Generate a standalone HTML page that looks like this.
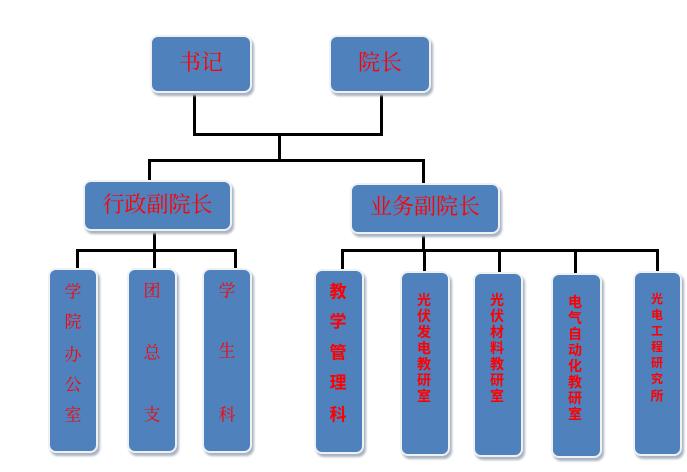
<!DOCTYPE html>
<html><head><meta charset="utf-8"><style>
body{margin:0;width:687px;height:472px;background:#fff;position:relative;overflow:hidden;font-family:"Liberation Sans","Noto Sans CJK SC",sans-serif;}
.b{position:absolute;background:#4f81bd;border:2px solid #eef0f3;border-radius:8px;box-shadow:2px 3px 2px #a9b4c2;box-sizing:border-box;}
.t{position:absolute;color:#ff0000;text-align:center;line-height:1;font-family:"Liberation Serif","Noto Serif CJK SC",serif;}
.l{position:absolute;background:#000;}
.c{position:absolute;color:#f00;font-weight:bold;transform:translate(-50%,-50%);line-height:1;}
.s{font-family:"Liberation Serif","Noto Serif CJK SC",serif;}
</style></head><body>
<div class="l" style="left:193px;top:93px;width:3px;height:42px"></div>
<div class="l" style="left:380px;top:93px;width:3px;height:42px"></div>
<div class="l" style="left:193px;top:133px;width:190px;height:3px"></div>
<div class="l" style="left:278px;top:134px;width:3px;height:26px"></div>
<div class="l" style="left:148px;top:159px;width:277px;height:3px"></div>
<div class="l" style="left:148px;top:159px;width:3px;height:22px"></div>
<div class="l" style="left:422px;top:159px;width:3px;height:24px"></div>
<div class="l" style="left:153px;top:229px;width:3px;height:21px"></div>
<div class="l" style="left:76px;top:249px;width:161px;height:3px"></div>
<div class="l" style="left:76px;top:249px;width:3px;height:20px"></div>
<div class="l" style="left:153px;top:249px;width:3px;height:20px"></div>
<div class="l" style="left:234px;top:249px;width:3px;height:20px"></div>
<div class="l" style="left:422px;top:232px;width:3px;height:18px"></div>
<div class="l" style="left:341px;top:249px;width:318px;height:3px"></div>
<div class="l" style="left:341px;top:249px;width:3px;height:21px"></div>
<div class="l" style="left:423px;top:249px;width:3px;height:23px"></div>
<div class="l" style="left:498px;top:249px;width:3px;height:24px"></div>
<div class="l" style="left:574px;top:249px;width:3px;height:25px"></div>
<div class="l" style="left:656px;top:249px;width:3px;height:23px"></div>

<div class="b" style="left:150px;top:35px;width:102px;height:58px"></div>
<div class="t" style="left:150px;top:52px;width:102px;font-size:22px">书记</div>
<div class="b" style="left:329px;top:35px;width:102px;height:58px"></div>
<div class="t" style="left:329px;top:52px;width:102px;font-size:22px">院长</div>
<div class="b" style="left:83px;top:180px;width:149px;height:51px"></div>
<div class="t" style="left:83px;top:194px;width:149px;font-size:22px">行政副院长</div>
<div class="b" style="left:350px;top:183px;width:150px;height:51px"></div>
<div class="t" style="left:350px;top:196px;width:150px;font-size:22px">业务副院长</div>

<div class="b" style="left:48px;top:268px;width:50px;height:185px"></div>
<div class="b" style="left:127px;top:268px;width:50px;height:185px"></div>
<div class="b" style="left:202px;top:268px;width:50px;height:185px"></div>
<div class="b" style="left:314px;top:269px;width:50px;height:185px"></div>
<div class="b" style="left:400px;top:271px;width:50px;height:185px"></div>
<div class="b" style="left:473px;top:272px;width:50px;height:185px"></div>
<div class="b" style="left:551px;top:273px;width:51px;height:185px"></div>
<div class="b" style="left:633px;top:271px;width:49px;height:185px"></div>

<div class="c s" style="left:73px;top:292px;font-size:17px;font-weight:normal">学</div>
<div class="c s" style="left:73px;top:322px;font-size:17px;font-weight:normal">院</div>
<div class="c s" style="left:73px;top:355px;font-size:17px;font-weight:normal">办</div>
<div class="c s" style="left:73px;top:385px;font-size:17px;font-weight:normal">公</div>
<div class="c s" style="left:73px;top:415px;font-size:17px;font-weight:normal">室</div>
<div class="c s" style="left:152px;top:291px;font-size:17px;font-weight:normal">团</div>
<div class="c s" style="left:152px;top:353px;font-size:17px;font-weight:normal">总</div>
<div class="c s" style="left:152px;top:415px;font-size:17px;font-weight:normal">支</div>
<div class="c s" style="left:227px;top:291px;font-size:17px;font-weight:normal">学</div>
<div class="c s" style="left:227px;top:351px;font-size:17px;font-weight:normal">生</div>
<div class="c s" style="left:227px;top:415px;font-size:17px;font-weight:normal">科</div>

<div class="c" style="left:338px;top:292px;font-size:17px">教</div>
<div class="c" style="left:338px;top:322px;font-size:17px">学</div>
<div class="c" style="left:338px;top:353px;font-size:17px">管</div>
<div class="c" style="left:338px;top:383px;font-size:17px">理</div>
<div class="c" style="left:338px;top:415px;font-size:17px">科</div>

<div class="c" style="left:424px;top:300px;font-size:14px">光</div>
<div class="c" style="left:424px;top:316px;font-size:14px">伏</div>
<div class="c" style="left:424px;top:332px;font-size:14px">发</div>
<div class="c" style="left:424px;top:348px;font-size:14px">电</div>
<div class="c" style="left:424px;top:364px;font-size:14px">教</div>
<div class="c" style="left:424px;top:380px;font-size:14px">研</div>
<div class="c" style="left:424px;top:396px;font-size:14px">室</div>

<div class="c" style="left:497px;top:300px;font-size:14px">光</div>
<div class="c" style="left:497px;top:316px;font-size:14px">伏</div>
<div class="c" style="left:497px;top:332px;font-size:14px">材</div>
<div class="c" style="left:497px;top:348px;font-size:14px">料</div>
<div class="c" style="left:497px;top:364px;font-size:14px">教</div>
<div class="c" style="left:497px;top:380px;font-size:14px">研</div>
<div class="c" style="left:497px;top:396px;font-size:14px">室</div>

<div class="c" style="left:575px;top:302px;font-size:14px">电</div>
<div class="c" style="left:575px;top:318px;font-size:14px">气</div>
<div class="c" style="left:575px;top:334px;font-size:14px">自</div>
<div class="c" style="left:575px;top:350px;font-size:14px">动</div>
<div class="c" style="left:575px;top:366px;font-size:14px">化</div>
<div class="c" style="left:575px;top:382px;font-size:14px">教</div>
<div class="c" style="left:575px;top:398px;font-size:14px">研</div>
<div class="c" style="left:575px;top:414px;font-size:14px">室</div>

<div class="c" style="left:657px;top:299px;font-size:12px">光</div>
<div class="c" style="left:657px;top:315px;font-size:12px">电</div>
<div class="c" style="left:657px;top:331px;font-size:12px">工</div>
<div class="c" style="left:657px;top:347px;font-size:12px">程</div>
<div class="c" style="left:657px;top:363px;font-size:12px">研</div>
<div class="c" style="left:657px;top:379px;font-size:12px">究</div>
<div class="c" style="left:657px;top:396px;font-size:13px">所</div>
</body></html>
